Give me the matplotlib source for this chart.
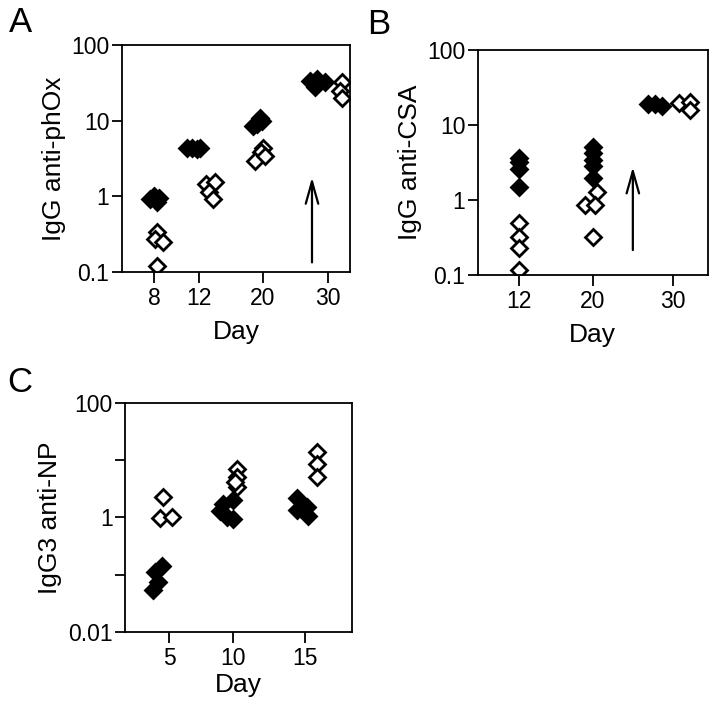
import matplotlib
matplotlib.use("Agg")
import matplotlib.pyplot as plt
import numpy as np

plt.rcParams['font.family'] = ['Liberation Sans', 'DejaVu Sans']

# ---- panel A: IgG anti-phOx ----
a_days = ["8", "12", "20", "30"]
a_tick_pos = [32, 77, 141, 206]
a_filled_group = [0, 0, 0, 0, 1, 1, 1, 1, 2, 2, 2, 2, 3, 3, 3, 3]
a_filled_jitter = [-4, 0, 3, 5, -12, -7, -2, 1, -6, -3, -10, -1, -18, -11, -3, -13]
a_filled_vals = [0.92, 1.0, 0.85, 0.95, 4.3, 4.4, 4.2, 4.3, 8.9, 11.0, 8.4, 9.8, 33, 35, 32, 28]
a_open_group = [0, 0, 0, 0, 1, 1, 1, 1, 2, 2, 2, 2, 3, 3, 3]
a_open_jitter = [3, 1, 9, 3, 7, 16, 10, 14, 0, -2, -8, 2, 14, 12, 14]
a_open_vals = [0.335, 0.27, 0.25, 0.119, 1.44, 1.53, 1.13, 0.91, 4.4, 3.8, 2.9, 3.4, 32, 24.5, 20]
a_arrow = (190, 0.134, 1.78)

# ---- panel B: IgG anti-CSA ----
b_days = ["12", "20", "30"]
b_tick_pos = [41, 115, 195]
b_filled_group = [0, 0, 0, 0, 1, 1, 1, 1, 1, 2, 2, 2]
b_filled_jitter = [0, 0, 0, 0, 0, 0, 0, 0, 0, -25, -18, -11]
b_filled_vals = [3.6, 3.2, 2.6, 1.5, 5.1, 4.2, 3.4, 2.8, 1.95, 19, 19, 18]
b_open_group = [0, 0, 0, 0, 1, 1, 1, 1, 2, 2, 2]
b_open_jitter = [0, 0, 0, 0, -8, 4, 2, 0, 6, 17, 17]
b_open_vals = [0.49, 0.32, 0.23, 0.117, 0.86, 1.28, 0.86, 0.32, 19.6, 20, 15.8]
b_arrow = (155, 0.215, 2.75)

# ---- panel C: IgG3 anti-NP ----
c_days = ["5", "10", "15"]
c_tick_pos = [44, 108, 180]
c_filled_group = [0, 0, 0, 0, 1, 1, 1, 1, 1, 2, 2, 2, 2]
c_filled_jitter = [-7, -16, -11, -14, -10, 0, -6, 0, -13, -8, 2, -8, 3]
c_filled_vals = [0.14, 0.055, 0.075, 0.11, 1.7, 2.0, 1.0, 0.95, 1.3, 2.2, 1.5, 1.35, 1.05]
c_open_group = [0, 0, 0, 1, 1, 1, 1, 2, 2, 2]
c_open_jitter = [-6, -9, 3, 4, 4, 4, 2, 12, 12, 12]
c_open_vals = [2.3, 0.98, 1.0, 7.0, 5.0, 3.4, 4.2, 13.8, 8.5, 5.2]


def draw_panel(ax, days, tick_pos, xmax, fg, fj, fv, og, oj, ov,
               ylim, yticks, ylabels, ylabel, arrow=None):
    """Draws one scatter panel with filled and open diamonds"""
    fx = np.array(tick_pos)[fg] + np.array(fj)
    ox = np.array(tick_pos)[og] + np.array(oj)

    ax.plot(ox, ov, 'D', ms=8.5, mfc='white', mec='black', mew=2.0, ls='none')
    ax.plot(fx, fv, 'D', ms=8.5, mfc='black', mec='black', mew=2.0, ls='none')

    if arrow is not None:
        ax.annotate("", xy=(arrow[0], arrow[2]), xytext=(arrow[0], arrow[1]),
                    arrowprops=dict(arrowstyle='->,head_length=1.6,head_width=0.45',
                                    lw=1.6, color='black', shrinkA=0, shrinkB=0))

    ax.set_yscale('log')
    ax.set_ylim(*ylim)
    ax.set_xlim(0, xmax)
    ax.set_yticks(yticks)
    ax.set_yticklabels(ylabels)
    ax.yaxis.set_minor_locator(matplotlib.ticker.NullLocator())
    ax.set_xticks(tick_pos)
    ax.set_xticklabels(days)
    ax.tick_params(axis='y', direction='out', length=7, width=1.3, pad=2, labelsize=16.5)
    ax.tick_params(axis='x', direction='out', length=8, width=1.3, pad=3, labelsize=16.5)
    for s in ax.spines.values():
        s.set_linewidth(1.3)
    ax.set_xlabel("Day", fontsize=19, labelpad=7)
    ax.set_ylabel(ylabel, fontsize=19, labelpad=4)


fig = plt.figure(figsize=(7.23, 7.13), dpi=100)

ax_a = fig.add_axes([0.1687, 0.6185, 0.3154, 0.3184])
draw_panel(ax_a, a_days, a_tick_pos, 228, a_filled_group, a_filled_jitter, a_filled_vals,
           a_open_group, a_open_jitter, a_open_vals, (0.1, 100),
           [0.1, 1, 10, 100], ["0.1", "1", "10", "100"], "IgG anti-phOx", a_arrow)

ax_b = fig.add_axes([0.661, 0.6143, 0.318, 0.3156])
draw_panel(ax_b, b_days, b_tick_pos, 230, b_filled_group, b_filled_jitter, b_filled_vals,
           b_open_group, b_open_jitter, b_open_vals, (0.1, 100),
           [0.1, 1, 10, 100], ["0.1", "1", "10", "100"], "IgG anti-CSA", b_arrow)

ax_c = fig.add_axes([0.1729, 0.1136, 0.314, 0.3212])
draw_panel(ax_c, c_days, c_tick_pos, 227, c_filled_group, c_filled_jitter, c_filled_vals,
           c_open_group, c_open_jitter, c_open_vals, (0.01, 100),
           [0.01, 0.1, 1, 10, 100], ["0.01", "", "1", "", "100"], "IgG3 anti-NP")
ax_c.xaxis.labelpad = 2

fig.text(9 / 723, 1 - 23 / 713, "A", fontsize=25, va='center', ha='left')
fig.text(367 / 723, 1 - 24 / 713, "B", fontsize=25, va='center', ha='left')
fig.text(7 / 723, 1 - 383 / 713, "C", fontsize=25, va='center', ha='left')

fig.savefig("out.png", dpi=100)
